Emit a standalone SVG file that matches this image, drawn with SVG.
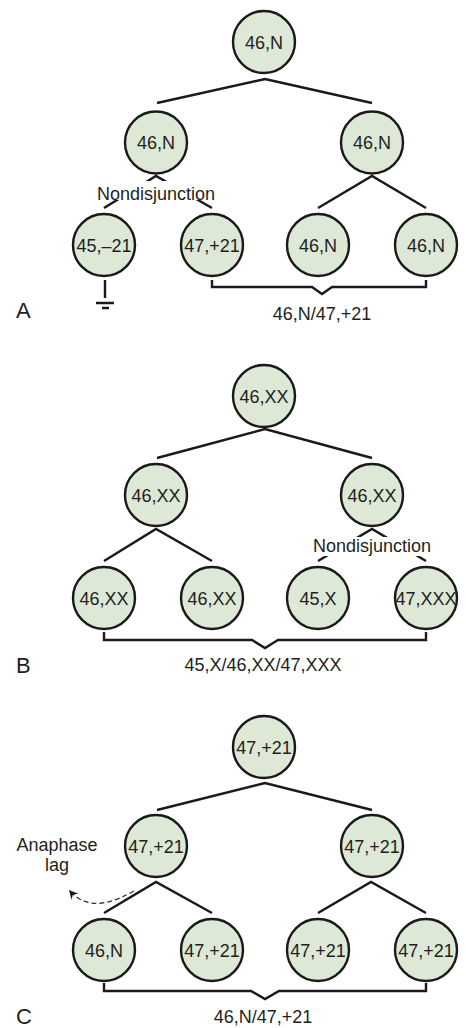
<svg xmlns="http://www.w3.org/2000/svg" width="466" height="1028" viewBox="0 0 466 1028">
<defs>
<style>
.n circle{fill:#dde8d6;stroke:#1a1a1a;stroke-width:2.4}
.n text,.t{font-family:"Liberation Sans",Arial,sans-serif;font-size:18px;fill:#231f20;text-anchor:middle}
.e{fill:none;stroke:#1a1a1a;stroke-width:2.4;stroke-linejoin:miter}
.p{font-family:"Liberation Sans",Arial,sans-serif;font-size:22px;fill:#231f20}
.ko{fill:#ffffff}
</style>
<marker id="ah" viewBox="-10 -5 11 10" refX="0" refY="0" markerWidth="11" markerHeight="10" markerUnits="userSpaceOnUse" orient="auto">
<path d="M0,0 L-9,-4.5 L-6,0 L-9,4.5 Z" fill="#1a1a1a"/>
</marker>
</defs>
<rect width="466" height="1028" fill="#ffffff"/>

<g id="connectors">
<!-- Panel A -->
<path class="e" d="M157,103 L265,79 L372,103"/>
<path class="e" d="M104,208 L156,176 L212,208"/>
<path class="e" d="M318,208 L372,176 L426,208"/>
<path class="e" d="M105,280 L105,298 M96,303 L114,303 M102,308 L109,308"/>
<path class="e" d="M212,280 L212,287 L312,287 L322,294 L332,287 L426,287 L426,280"/>
<!-- Panel B -->
<path class="e" d="M157,458 L265,429 L372,458"/>
<path class="e" d="M104,561 L156,529 L212,561"/>
<path class="e" d="M318,561 L372,529 L426,561"/>
<path class="e" d="M104,632 L104,640 L252,640 L265,648 L278,640 L426,640 L426,632"/>
<!-- Panel C -->
<path class="e" d="M157,810 L265,783 L372,810"/>
<path class="e" d="M104,913 L156,882 L212,913"/>
<path class="e" d="M318,913 L371,882 L426,913"/>
<path class="e" d="M104,983 L104,991 L251,991 L265,999 L279,991 L426,991 L426,983"/>
<path d="M134,891 C112,903 88,912 69,890" fill="none" stroke="#333333" stroke-width="1.3" stroke-dasharray="5 3" marker-end="url(#ah)"/>
</g>

<g id="labels">
<rect class="ko" x="95" y="181" width="122" height="19"/>
<text class="t" x="156" y="199.5">Nondisjunction</text>
<rect class="ko" x="311" y="537" width="122" height="19"/>
<text class="t" x="372" y="551.5">Nondisjunction</text>
<text class="t" x="322" y="320">46,N/47,+21</text>
<text class="t" x="263" y="671">45,X/46,XX/47,XXX</text>
<text class="t" x="263" y="1023">46,N/47,+21</text>
<text class="t" x="57" y="851">Anaphase</text>
<text class="t" x="57" y="871">lag</text>
<text class="p" x="16" y="318">A</text>
<text class="p" x="16" y="673">B</text>
<text class="p" x="16" y="1024">C</text>
</g>

<!-- Panel A nodes -->
<g id="a-top" class="n"><circle cx="264" cy="42" r="31"/><text x="264" y="48.5">46,N</text></g>
<g id="a-l" class="n"><circle cx="156" cy="142.5" r="31"/><text x="156" y="149">46,N</text></g>
<g id="a-r" class="n"><circle cx="372" cy="142.5" r="31"/><text x="372" y="149">46,N</text></g>
<g id="a-ll" class="n"><circle cx="104" cy="245" r="31"/><text x="104" y="251.5">45,–21</text></g>
<g id="a-lr" class="n"><circle cx="212" cy="245" r="31"/><text x="212" y="251.5">47,+21</text></g>
<g id="a-rl" class="n"><circle cx="318" cy="245" r="31"/><text x="318" y="251.5">46,N</text></g>
<g id="a-rr" class="n"><circle cx="426" cy="245" r="31"/><text x="426" y="251.5">46,N</text></g>

<!-- Panel B nodes -->
<g id="b-top" class="n"><circle cx="264" cy="396" r="31"/><text x="264" y="402.5">46,XX</text></g>
<g id="b-l" class="n"><circle cx="156" cy="495" r="31"/><text x="156" y="501.5">46,XX</text></g>
<g id="b-r" class="n"><circle cx="372" cy="495" r="31"/><text x="372" y="501.5">46,XX</text></g>
<g id="b-ll" class="n"><circle cx="104" cy="598" r="31"/><text x="104" y="604.5">46,XX</text></g>
<g id="b-lr" class="n"><circle cx="212" cy="598" r="31"/><text x="212" y="604.5">46,XX</text></g>
<g id="b-rl" class="n"><circle cx="318" cy="598" r="31"/><text x="318" y="604.5">45,X</text></g>
<g id="b-rr" class="n"><circle cx="426" cy="598" r="31"/><text x="426" y="604.5">47,XXX</text></g>

<!-- Panel C nodes -->
<g id="c-top" class="n"><circle cx="264" cy="747" r="31"/><text x="264" y="753.5">47,+21</text></g>
<g id="c-l" class="n"><circle cx="156" cy="846" r="31"/><text x="156" y="852.5">47,+21</text></g>
<g id="c-r" class="n"><circle cx="372" cy="846" r="31"/><text x="372" y="852.5">47,+21</text></g>
<g id="c-ll" class="n"><circle cx="104" cy="950" r="31"/><text x="104" y="956.5">46,N</text></g>
<g id="c-lr" class="n"><circle cx="212" cy="950" r="31"/><text x="212" y="956.5">47,+21</text></g>
<g id="c-rl" class="n"><circle cx="318" cy="950" r="31"/><text x="318" y="956.5">47,+21</text></g>
<g id="c-rr" class="n"><circle cx="426" cy="950" r="31"/><text x="426" y="956.5">47,+21</text></g>
</svg>
